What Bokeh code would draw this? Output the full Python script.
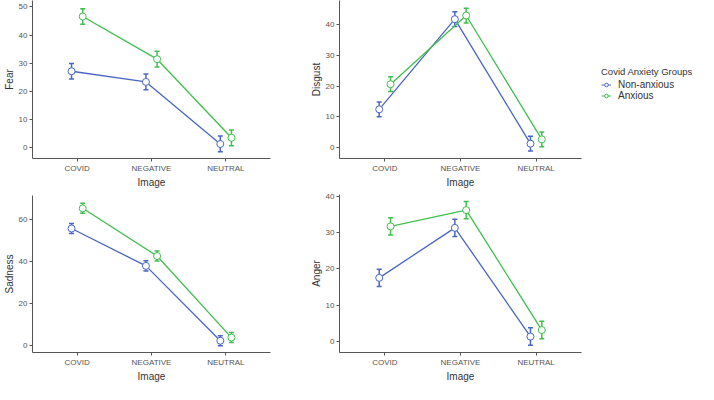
from bokeh.plotting import figure
from bokeh.models import (ColumnDataSource, Whisker, TeeHead, FixedTicker, Range1d,
                          Legend, LegendItem)
from bokeh.transform import dodge
from bokeh.layouts import row, column
from bokeh.embed import file_html
from bokeh.resources import INLINE

images = ["COVID", "NEGATIVE", "NEUTRAL"]
groups = ["Non-anxious", "Anxious"]

fear_non = [27.1, 23.3, 1.2]
fear_anx = [46.6, 31.4, 3.4]
fear_se_non = [2.8, 2.8, 2.8]
fear_se_anx = [2.8, 2.8, 2.8]

disgust_non = [12.4, 41.8, 1.2]
disgust_anx = [20.6, 43.0, 2.6]
disgust_se_non = [2.4, 2.4, 2.4]
disgust_se_anx = [2.4, 2.4, 2.4]

sadness_non = [55.9, 38.1, 2.5]
sadness_anx = [65.5, 42.8, 4.0]
sadness_se_non = [2.4, 2.4, 2.4]
sadness_se_anx = [2.4, 2.4, 2.4]

anger_non = [17.5, 31.3, 1.3]
anger_anx = [31.7, 36.2, 3.1]
anger_se_non = [2.4, 2.4, 2.4]
anger_se_anx = [2.4, 2.4, 2.4]

fear_ticks = [0, 10, 20, 30, 40, 50]
disgust_ticks = [0, 10, 20, 30, 40]
sadness_ticks = [0, 20, 40, 60]
anger_ticks = [0, 10, 20, 30, 40]

BLUE = "#4a66c4"
GREEN = "#3fbf4f"
FONT = "Liberation Sans"
DODGE = 0.075


def panel(name, non, anx, se_non, se_anx, ticks, yr, w, h, bl, br, bt, bb):
    p = figure(width=w, height=h, output_backend="svg", toolbar_location=None,
               x_range=Range1d(0.4, 3.6), y_range=Range1d(*yr),
               min_border_left=bl, min_border_right=br,
               min_border_top=bt, min_border_bottom=bb)
    p.outline_line_color = None
    p.xgrid.visible = False
    p.ygrid.visible = False
    p.background_fill_color = "white"
    p.border_fill_color = "white"
    xs = list(range(1, len(images) + 1))
    for vals, se, color, off in [(non, se_non, BLUE, -DODGE), (anx, se_anx, GREEN, DODGE)]:
        src = ColumnDataSource(dict(
            x=xs, y=vals,
            lo=[v - s for v, s in zip(vals, se)],
            hi=[v + s for v, s in zip(vals, se)]))
        p.line(x=dodge("x", off), y="y", source=src, line_color=color, line_width=1.3)
        wk = Whisker(base=dodge("x", off), lower="lo", upper="hi", source=src,
                     dimension="height", line_color=color, line_width=1.5,
                     upper_head=TeeHead(size=5, line_color=color, line_width=1.5),
                     lower_head=TeeHead(size=5, line_color=color, line_width=1.5))
        p.add_layout(wk)
        p.scatter(x=dodge("x", off), y="y", source=src, marker="circle", size=7,
                  fill_color="white", line_color=color, line_width=1)
    p.xaxis.ticker = FixedTicker(ticks=xs)
    p.xaxis.major_label_overrides = {i: lab for i, lab in zip(xs, images)}
    p.yaxis.ticker = FixedTicker(ticks=ticks)
    p.xaxis.axis_label = "Image"
    p.yaxis.axis_label = name
    for ax in (p.xaxis[0], p.yaxis[0]):
        ax.axis_line_color = "#555555"
        ax.axis_line_width = 1
        ax.major_tick_line_color = "#555555"
        ax.major_tick_out = 3
        ax.major_tick_in = 0
        ax.minor_tick_line_color = None
        ax.major_label_text_font = FONT
        ax.major_label_text_font_size = "8px"
        ax.major_label_text_color = "#555555"
        ax.major_label_standoff = 2
        ax.axis_label_text_font = FONT
        ax.axis_label_text_font_size = "10px"
        ax.axis_label_text_font_style = "normal"
        ax.axis_label_text_color = "#333333"
        ax.axis_label_standoff = 1
    return p


f1 = panel("Fear", fear_non, fear_anx, fear_se_non, fear_se_anx, fear_ticks,
           (-3.97, 52.3), 288, 190, 24, 18, 0, 20)
f2 = panel("Disgust", disgust_non, disgust_anx, disgust_se_non, disgust_se_anx,
           disgust_ticks, (-3.64, 47.9), 296, 190, 51, 3, 0, 20)
f3 = panel("Sadness", sadness_non, sadness_anx, sadness_se_non, sadness_se_anx,
           sadness_ticks, (-3.1, 71.6), 288, 194, 24, 18, 5, 20)
f4 = panel("Anger", anger_non, anger_anx, anger_se_non, anger_se_anx, anger_ticks,
           (-3.1, 40.5), 296, 194, 51, 3, 4, 20)

# legend panel
lg = figure(width=114, height=384, output_backend="svg", toolbar_location=None,
            x_range=Range1d(0, 1), y_range=Range1d(0, 1),
            min_border_left=0, min_border_right=0, min_border_top=0, min_border_bottom=0)
lg.axis.visible = False
lg.xgrid.visible = False
lg.ygrid.visible = False
lg.outline_line_color = None
items = []
for g, color in zip(groups, [BLUE, GREEN]):
    r1 = lg.line(x=[-5, -4], y=[-5, -4], line_color=color, line_width=1)
    r2 = lg.scatter(x=[-5], y=[-5], marker="circle", size=5, fill_color="white",
                    line_color=color, line_width=1)
    items.append(LegendItem(label=g, renderers=[r1, r2]))
legend = Legend(items=items, location=(17, 283), title="Covid Anxiety Groups",
                title_text_font=FONT, title_text_font_size="9.5px",
                title_text_font_style="normal", title_text_color="#333333",
                title_standoff=2,
                label_text_font=FONT, label_text_font_size="10px",
                label_text_color="#333333", label_height=9, glyph_height=9,
                glyph_width=10, label_standoff=7, spacing=0, padding=0, margin=0,
                border_line_color=None, background_fill_color=None)
lg.add_layout(legend, "center")

layout = row(column(f1, f3), column(f2, f4), lg)

open("out.html", "w").write(file_html(layout, INLINE))
